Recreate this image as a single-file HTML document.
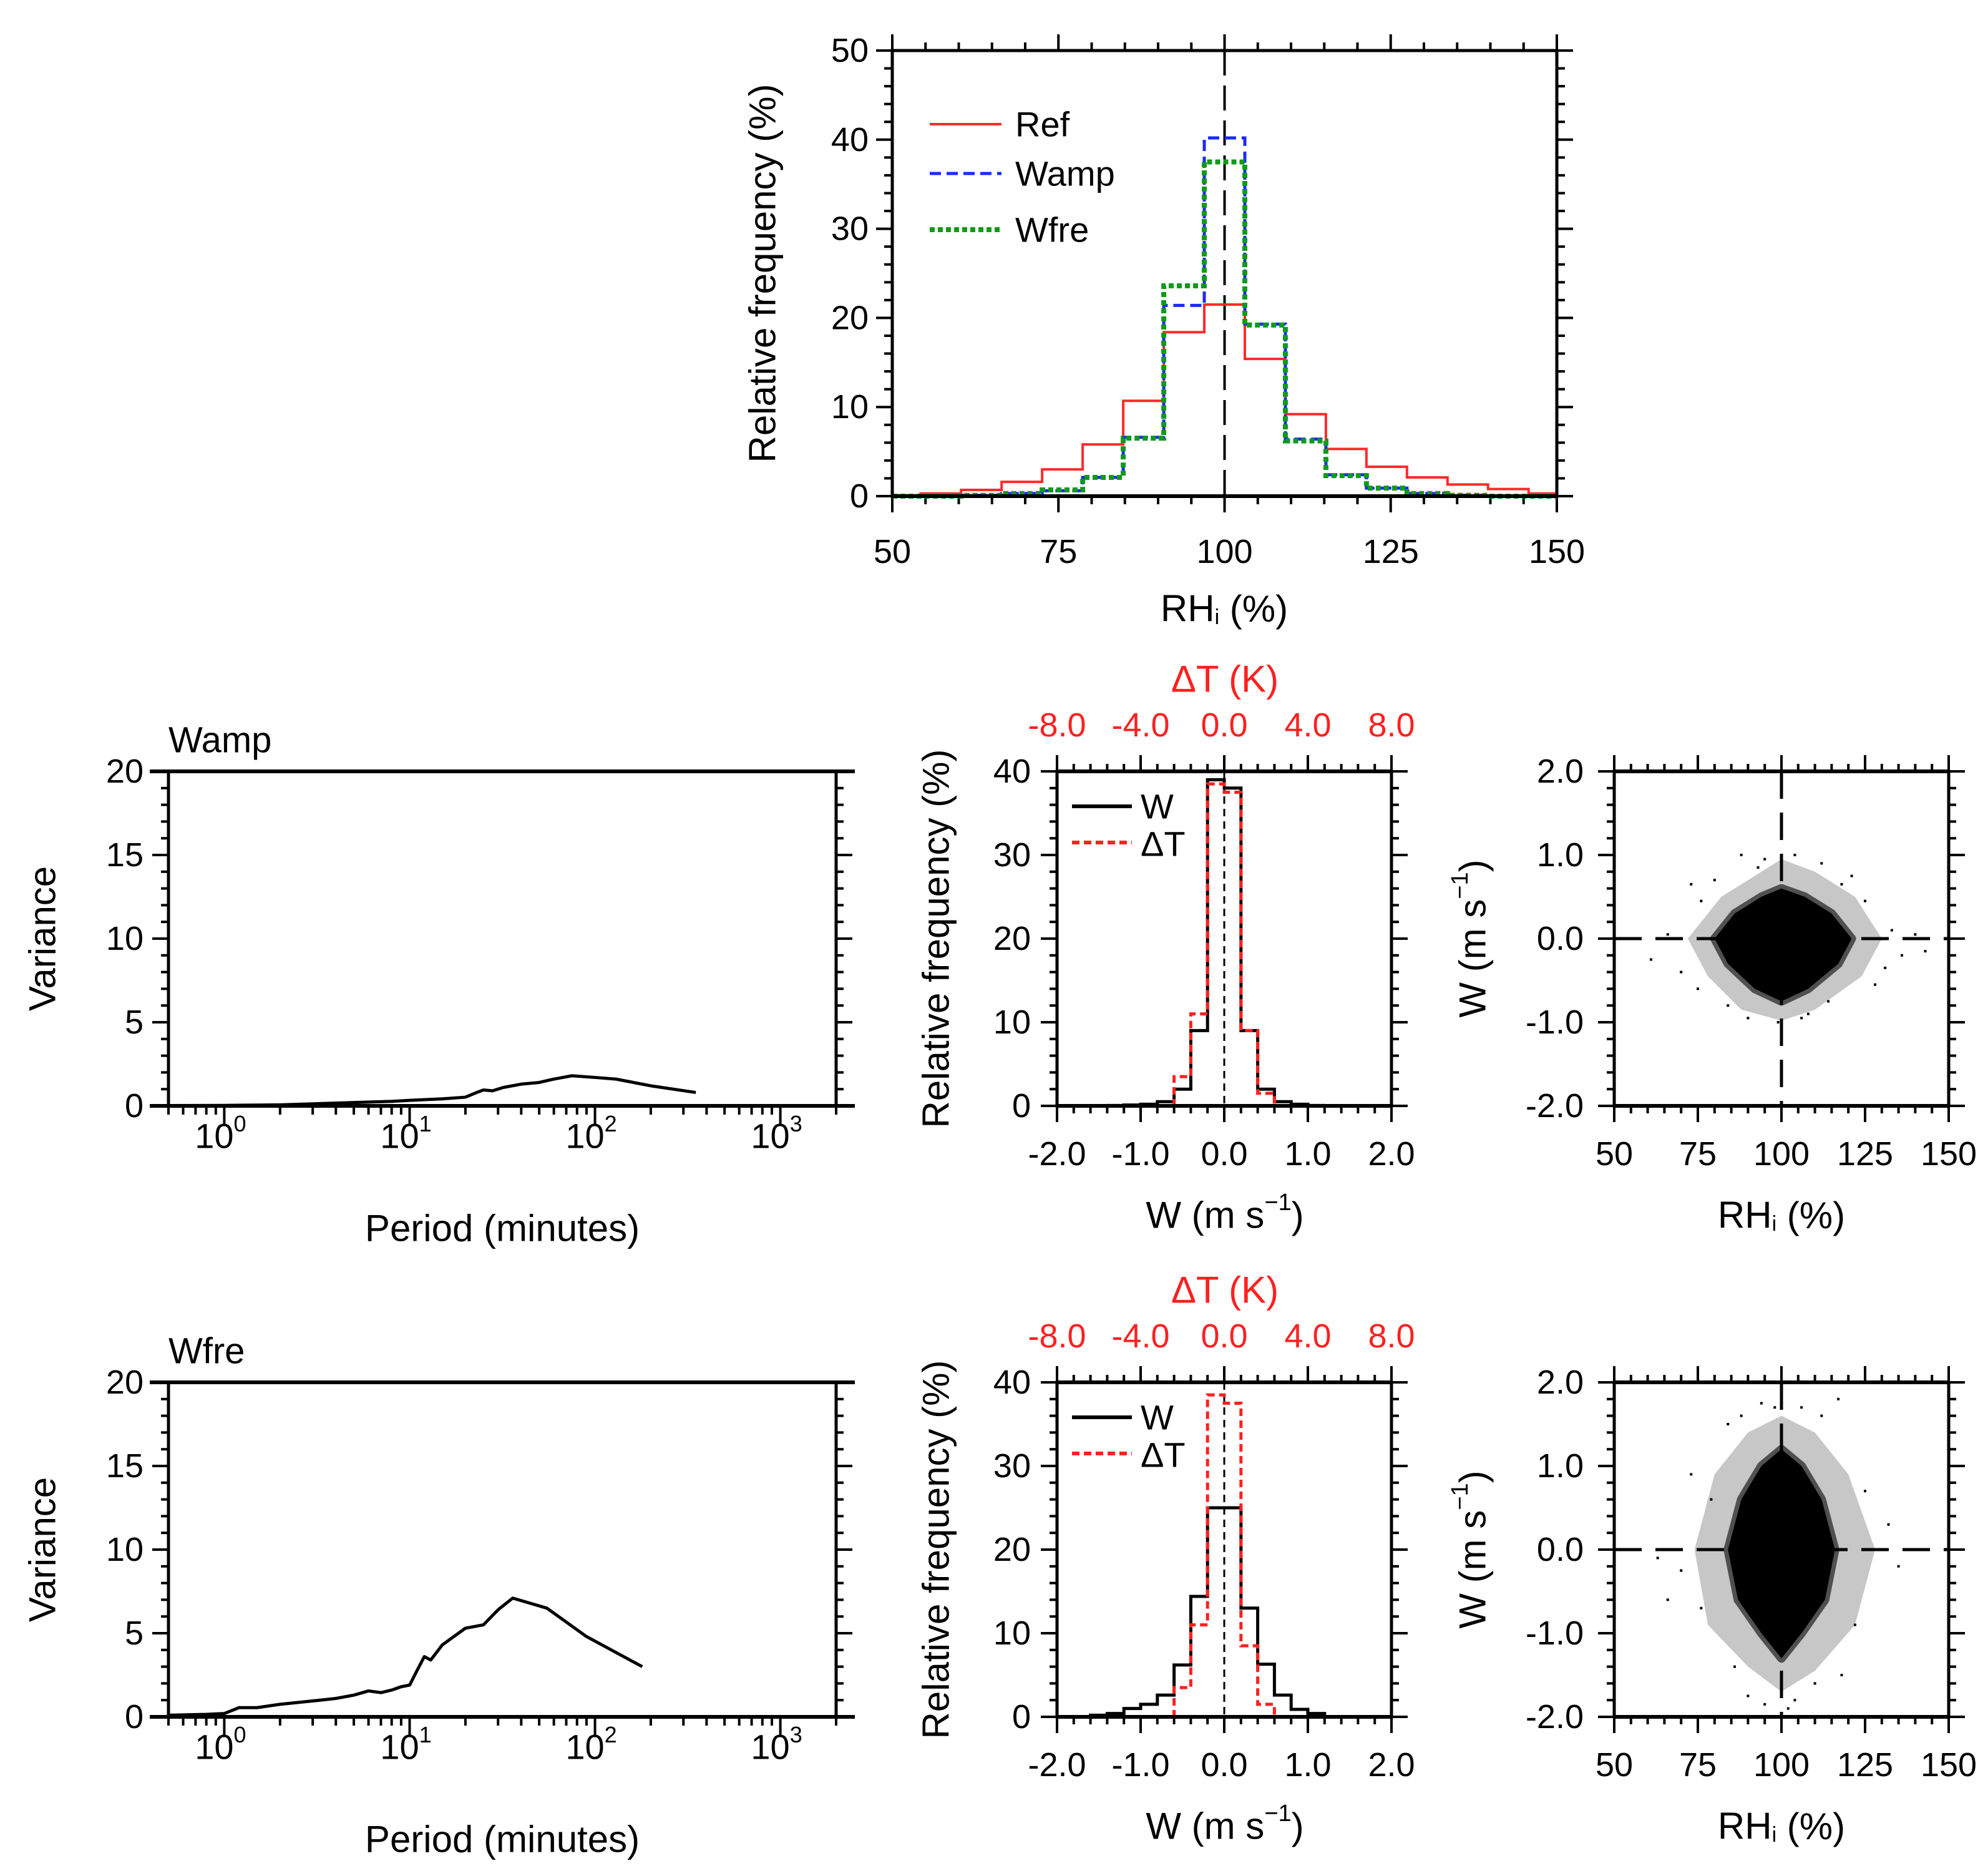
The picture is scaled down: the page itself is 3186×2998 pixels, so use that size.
<!DOCTYPE html>
<html><head><meta charset="utf-8">
<style>
html,body{margin:0;padding:0;background:#fff;}
svg{display:block;font-family:"Liberation Sans",Arial,sans-serif;}
</style></head>
<body>
<svg id="fig" xmlns="http://www.w3.org/2000/svg" width="3186" height="2998" viewBox="0 0 3186 2998">
<rect x="0" y="0" width="3186" height="2998" fill="#fff"/>
</svg>
<script>
// ---------- DATA ----------
const rhBinK = [-8,-7,-6,-5,-4,-3,-2,-1,0,1,2,3,4,5,6,7,8];
const refVals  = [0.1,0.3,0.7,1.6,3.0,5.8,10.7,18.4,21.5,15.4,9.2,5.3,3.3,2.1,1.3,0.8,0.3];
const wampVals = [0,0,0.1,0.3,0.6,2.1,6.6,21.4,40.2,19.3,6.4,2.4,0.9,0.3,0.1,0,0];
const wfreVals = [0,0,0.1,0.3,0.7,2.1,6.5,23.6,37.5,19.2,6.2,2.3,0.9,0.3,0.1,0,0];
const rhTicks = [50,75,100,125,150];
const freqTicks50 = [0,10,20,30,40,50];
const wampPeriod = [0.5,1,2,3,5,8,10,15,20,23,25,28,32,40,50,60,75,100,130,200,350];
const wampVar    = [0.02,0.03,0.06,0.12,0.2,0.27,0.33,0.42,0.52,0.8,0.95,0.9,1.1,1.3,1.4,1.6,1.8,1.7,1.6,1.2,0.8];
const wfrePeriod = [0.5,0.8,1,1.2,1.5,2,3,4,5,6,7,8,9,10,11,12,13,15,20,25,30,36,55,90,180];
const wfreVar    = [0.1,0.15,0.2,0.55,0.55,0.75,0.95,1.1,1.3,1.55,1.45,1.6,1.8,1.9,2.8,3.6,3.4,4.3,5.3,5.5,6.4,7.1,6.5,4.8,3.0];
const decades = [0,1,2,3];
const varTicks = [0,5,10,15,20];
const wEdges = [-1.6,-1.4,-1.2,-1.0,-0.8,-0.6,-0.4,-0.2,0,0.2,0.4,0.6,0.8,1.0];
const wAmpW  = [0,0.05,0.1,0.2,0.5,2.0,9.0,39.0,38.0,9.0,2.0,0.5,0.2,0.05];
const wAmpT  = [0,0,0,0,0,3.5,11.0,38.5,37.5,9.0,1.5,0,0,0];
const wFreW  = [0.2,0.4,1.0,1.5,2.6,6.2,14.4,25.0,25.0,13.0,6.3,2.6,0.9,0.4];
const wFreT  = [0,0,0,0,0,3.5,11.0,38.5,37.5,8.5,1.5,0,0,0];
const wTicks = [-2,-1,0,1,2];
const wTickLabels = ["-2.0","-1.0","0.0","1.0","2.0"];
const dTLabels = ["-8.0","-4.0","0.0","4.0","8.0"];
const freqTicks40 = [0,10,20,30,40];
const ampCoreRH = [80,86,94,100,107,115,121,117,108,100,92,84];
const ampCoreW  = [0.0,0.3,0.5,0.6,0.5,0.3,0.0,-0.3,-0.6,-0.75,-0.6,-0.3];
const ampHaloRH = [72,82,92,100,110,122,130,124,110,100,88,78];
const ampHaloW  = [0.0,0.5,0.75,0.95,0.8,0.5,0.0,-0.45,-0.85,-0.98,-0.85,-0.45];
const ampPtsRH = [61,66,70,73,75,128,133,136,140,143,88,95,104,112,118,84,90,108,114,99,76,125,131,80,121,93,106];
const ampPtsW  = [-0.25,0.05,-0.4,0.65,-0.6,-0.55,0.1,-0.2,0.05,-0.15,1.0,0.95,1.0,0.9,0.65,-0.8,-0.95,-0.9,-0.75,-1.0,0.45,0.45,-0.35,0.7,0.75,0.85,-0.95];
const freCoreRH = [84,88,94,100,106,112,116,113,106,100,94,87];
const freCoreW  = [0.0,0.6,1.0,1.2,1.0,0.6,0.0,-0.6,-1.0,-1.3,-1.0,-0.6];
const freHaloRH = [74,80,90,100,110,120,128,122,110,100,90,78];
const freHaloW  = [0.0,0.9,1.4,1.6,1.4,0.9,0.0,-0.9,-1.45,-1.7,-1.4,-0.9];
const frePtsRH = [63,66,70,73,128,132,135,84,88,94,106,112,117,90,95,104,110,86,118,79,125,76,122,98,102];
const frePtsW  = [-0.1,-0.6,-0.25,0.9,0.0,0.3,-0.2,1.5,1.6,1.75,1.7,1.6,1.8,-1.75,-1.85,-1.8,-1.6,-1.4,-1.5,0.6,0.7,-0.7,-0.9,1.7,-1.9];

// ---------- helpers ----------
const NS="http://www.w3.org/2000/svg";
const svg=document.getElementById('fig');
function mk(tag,attrs,parent){const e=document.createElementNS(NS,tag);for(const k in attrs)e.setAttribute(k,attrs[k]);(parent||svg).appendChild(e);return e;}
function txt(s,x,y,size,anchor,fill,parent){const t=mk('text',{x:x,y:y,'font-size':size,'text-anchor':anchor||'middle','dominant-baseline':'central',fill:fill||'#000'},parent);t.textContent=s;return t;}
function makeAxes(c){
  c.sx = c.log ? (v=>c.x0+(Math.log10(v)-Math.log10(c.xmin))/(Math.log10(c.xmax)-Math.log10(c.xmin))*(c.x1-c.x0))
               : (v=>c.x0+(v-c.xmin)/(c.xmax-c.xmin)*(c.x1-c.x0));
  c.sy = v=>c.y1-(v-c.ymin)/(c.ymax-c.ymin)*(c.y1-c.y0);
  return c;
}
function frame(c,g){
  mk('rect',{x:c.x0,y:c.y0,width:c.x1-c.x0,height:c.y1-c.y0,fill:'none',stroke:'#000','stroke-width':5},g);
}
function tick(g,x1,y1,x2,y2,w){mk('line',{x1:x1,y1:y1,x2:x2,y2:y2,stroke:'#000','stroke-width':w||4},g);}
function stepPath(edges,vals,sx,sy,width){
  let d='';
  for(let i=0;i<vals.length;i++){
    const a=sx(edges[i]),b=sx(edges[i]+width),y=sy(vals[i]);
    d+=(i===0?'M'+a+','+sy(0)+' L'+a+','+y:' L'+a+','+y)+' L'+b+','+y;
  }
  d+=' L'+sx(edges[vals.length-1]+width)+','+sy(0);
  return d;
}

// ---------- TOP HISTOGRAM ----------
(function(){
  const g=mk('g',{});
  
  
  const c=makeAxes({x0:1430,x1:2495,y0:81,y1:795,xmin:50,xmax:150,ymin:0,ymax:50});
  for(let v=50;v<=150;v+=5){const big=v%25===0;const L=big?26:13;
    tick(g,c.sx(v),c.y1,c.sx(v),c.y1+L);tick(g,c.sx(v),c.y0,c.sx(v),c.y0-L);}
  for(let v=0;v<=50;v+=2){const big=v%10===0;const L=big?26:13;
    tick(g,c.x0,c.sy(v),c.x0-L,c.sy(v));tick(g,c.x1,c.sy(v),c.x1+L,c.sy(v));}
  rhTicks.forEach(v=>{const t=txt(String(v),c.sx(v),884,54,'middle','#000',g);});
  freqTicks50.forEach(v=>{const t=txt(String(v),1392,c.sy(v),54,'end','#000',g);});
  const xt=mk('text',{x:1962,y:975,'font-size':60,'text-anchor':'middle','dominant-baseline':'central'},g);
  xt.innerHTML='RH<tspan font-size="34" dy="14">i</tspan><tspan dy="-14"> (%)</tspan>';
  
  const yt=txt('Relative frequency (%)',0,0,60,'middle','#000',g);yt.setAttribute('transform','translate(1222,438) rotate(-90)');
  
  const vl=mk('line',{x1:c.sx(100),y1:c.y0,x2:c.sx(100),y2:c.y1,stroke:'#000','stroke-width':4,'stroke-dasharray':'40,16'},g);
  
  const w=6.1;const edges=rhBinK.map(k=>100+k*w-w/2);
  const sxc=v=>c.sx(Math.max(50,Math.min(150,v)));
  const pRef=mk('path',{d:stepPath(edges,refVals,sxc,c.sy,w),fill:'none',stroke:'#ff2a2a','stroke-width':4},g);
  
  const pWa=mk('path',{d:stepPath(edges,wampVals,sxc,c.sy,w),fill:'none',stroke:'#1a2bff','stroke-width':5,'stroke-dasharray':'18,9'},g);
  
  const pWf=mk('path',{d:stepPath(edges,wfreVals,sxc,c.sy,w),fill:'none',stroke:'#109a1a','stroke-width':8,'stroke-dasharray':'8,5'},g);
  
  frame(c,g);
  tick(g,c.x0,c.y1,c.x1,c.y1,6);
  const leg=mk('g',{},g);
  const items=[['Ref','#ff2a2a',4,'none',199],['Wamp','#1a2bff',5,'18,9',278],['Wfre','#109a1a',8,'8,5',368]];
  items.forEach(it=>{const e=mk('g',{},leg);
    mk('line',{x1:1490,y1:it[4],x2:1605,y2:it[4],stroke:it[1],'stroke-width':it[2],'stroke-dasharray':it[3]},e);
    txt(it[0],1627,it[4],56,'start','#000',e);});
})();

// ---------- VARIANCE PANELS ----------
function variancePanel(dy,title,per,vals,name){
  const g=mk('g',{});
  
  
  const c=makeAxes({x0:270,x1:1340,y0:1236+dy,y1:1772+dy,xmin:0.5,xmax:2000,ymin:0,ymax:20,log:true});
  for(let v=0;v<=20;v+=1){const big=v%5===0;const L=big?26:12;
    tick(g,c.x0,c.sy(v),c.x0-L,c.sy(v));tick(g,c.x1,c.sy(v),c.x1+L,c.sy(v));}
  for(let d=-1;d<=3;d++){for(let m=1;m<=9;m++){const v=m*Math.pow(10,d);if(v<0.5||v>2000)continue;
    const L=m===1?30:14;tick(g,c.sx(v),c.y1,c.sx(v),c.y1+L);}}
  decades.forEach(d=>{const t=mk('text',{x:c.sx(Math.pow(10,d))-6,y:1820+dy,'font-size':56,'text-anchor':'middle','dominant-baseline':'central'},g);
    t.innerHTML='10<tspan font-size="36" dy="-20">'+d+'</tspan>';
    });
  varTicks.forEach(v=>{const t=txt(String(v),230,c.sy(v),54,'end','#000',g);});
  const tt=txt(title,270,1186+dy,58,'start','#000',g);
  const xt=txt('Period (minutes)',805,1968+dy,60,'middle','#000',g);
  const yt=txt('Variance',0,0,60,'middle','#000',g);yt.setAttribute('transform','translate(68,'+(1504+dy)+') rotate(-90)');
  
  const pts=per.map((p,i)=>c.sx(p)+','+c.sy(vals[i])).join(' ');
  const pl=mk('polyline',{points:pts,fill:'none',stroke:'#000','stroke-width':5,'stroke-linejoin':'round'},g);
  
  frame(c,g);
  tick(g,c.x0-30,c.y1,c.x1+30,c.y1,6);tick(g,c.x0-30,c.y0,c.x1+30,c.y0,6);
}
variancePanel(0,'Wamp',wampPeriod,wampVar,'wamp-variance-panel');
variancePanel(979,'Wfre',wfrePeriod,wfreVar,'wfre-variance-panel');

// ---------- W / dT HISTOGRAMS ----------
function wHist(dy,wv,tv,name){
  const g=mk('g',{});
  
  
  const c=makeAxes({x0:1694,x1:2230,y0:1236+dy,y1:1772+dy,xmin:-2,xmax:2,ymin:0,ymax:40});
  for(let i=0;i<=20;i++){const v=-2+i*0.2;const big=i%5===0;const L=big?26:12;
    tick(g,c.sx(v),c.y1,c.sx(v),c.y1+L);tick(g,c.sx(v),c.y0,c.sx(v),c.y0-L);}
  for(let v=0;v<=40;v+=2){const big=v%10===0;const L=big?26:12;
    tick(g,c.x0,c.sy(v),c.x0-L,c.sy(v));tick(g,c.x1,c.sy(v),c.x1+L,c.sy(v));}
  wTicks.forEach((v,i)=>{const t=txt(wTickLabels[i],c.sx(v),1849+dy,54,'middle','#000',g);
    const r=txt(dTLabels[i],c.sx(v),1162+dy,54,'middle','#ff2020',g);});
  freqTicks40.forEach(v=>{const t=txt(String(v),1652,c.sy(v),54,'end','#000',g);});
  const tt=txt('ΔT (K)',1963,1088+dy,60,'middle','#ff2020',g);
  const xt=mk('text',{x:1963,y:1947+dy,'font-size':60,'text-anchor':'middle','dominant-baseline':'central'},g);
  xt.innerHTML='W (m s<tspan font-size="38" dy="-20">−1</tspan><tspan dy="20">)</tspan>';
  
  const yt=txt('Relative frequency (%)',0,0,60,'middle','#000',g);yt.setAttribute('transform','translate(1500,'+(1504+dy)+') rotate(-90)');
  
  const zl=mk('line',{x1:c.sx(0),y1:c.y0,x2:c.sx(0),y2:c.y1,stroke:'#000','stroke-width':3,'stroke-dasharray':'12,8'},g);
  
  const pw=mk('path',{d:stepPath(wEdges,wv,c.sx,c.sy,0.2),fill:'none',stroke:'#000','stroke-width':5},g);
  
  const pt=mk('path',{d:stepPath(wEdges,tv,c.sx,c.sy,0.2),fill:'none',stroke:'#ff2020','stroke-width':5,'stroke-dasharray':'12,7'},g);
  
  frame(c,g);
  tick(g,c.x0,c.y1,c.x1,c.y1,6);tick(g,c.x0,c.y0,c.x1,c.y0,6);
  const leg=mk('g',{},g);
  const e1=mk('g',{},leg);
  mk('line',{x1:1718,y1:1292+dy,x2:1814,y2:1292+dy,stroke:'#000','stroke-width':6},e1);txt('W',1828,1292+dy,56,'start','#000',e1);
  const e2=mk('g',{},leg);
  mk('line',{x1:1718,y1:1350+dy,x2:1814,y2:1350+dy,stroke:'#ff2020','stroke-width':6,'stroke-dasharray':'12,7'},e2);txt('ΔT',1828,1352+dy,56,'start','#000',e2);
}
wHist(0,wAmpW,wAmpT,'wamp-w-histogram');
wHist(979,wFreW,wFreT,'wfre-w-histogram');

// ---------- SCATTER ----------
function scatter(dy,coreRH,coreW,haloRH,haloW,ptRH,ptW,name){
  const g=mk('g',{});
  
  
  const c=makeAxes({x0:2587,x1:3123,y0:1236+dy,y1:1772+dy,xmin:50,xmax:150,ymin:-2,ymax:2});
  for(let v=50;v<=150;v+=5){const big=v%25===0;const L=big?26:12;
    tick(g,c.sx(v),c.y1,c.sx(v),c.y1+L);tick(g,c.sx(v),c.y0,c.sx(v),c.y0-L);}
  for(let i=0;i<=20;i++){const v=-2+i*0.2;const big=i%5===0;const L=big?26:12;
    tick(g,c.x0,c.sy(v),c.x0-L,c.sy(v));tick(g,c.x1,c.sy(v),c.x1+L,c.sy(v));}
  rhTicks.forEach(v=>{const t=txt(String(v),c.sx(v),1849+dy,54,'middle','#000',g);});
  wTicks.forEach((v,i)=>{const t=txt(wTickLabels[i],2538,c.sy(v),54,'end','#000',g);});
  const xt=mk('text',{x:2855,y:1947+dy,'font-size':60,'text-anchor':'middle','dominant-baseline':'central'},g);
  xt.innerHTML='RH<tspan font-size="34" dy="14">i</tspan><tspan dy="-14"> (%)</tspan>';
  
  const yt=mk('text',{'font-size':60,'text-anchor':'middle','dominant-baseline':'central',transform:'translate(2360,'+(1504+dy)+') rotate(-90)'},g);
  yt.innerHTML='W (m s<tspan font-size="38" dy="-20">−1</tspan><tspan dy="20">)</tspan>';
  
  const halo=mk('polygon',{points:haloRH.map((r,i)=>c.sx(r)+','+c.sy(haloW[i])).join(' '),fill:'#000','fill-opacity':0.22,stroke:'none'},g);
  
  const core=mk('polygon',{points:coreRH.map((r,i)=>c.sx(r)+','+c.sy(coreW[i])).join(' '),fill:'#000',stroke:'#000','stroke-width':14,'stroke-linejoin':'round','stroke-opacity':0.6},g);
  
  ptRH.forEach((r,i)=>{const p=mk('rect',{x:c.sx(r)-2,y:c.sy(ptW[i])-2,width:4,height:4,fill:'#000'},g);
    });
  const h=mk('line',{x1:c.x0,y1:c.sy(0),x2:c.x1,y2:c.sy(0),stroke:'#000','stroke-width':5,'stroke-dasharray':'44,22'},g);
  
  const v=mk('line',{x1:c.sx(100),y1:c.y0,x2:c.sx(100),y2:c.y1,stroke:'#000','stroke-width':5,'stroke-dasharray':'44,22'},g);
  
  frame(c,g);
  tick(g,c.x0,c.y1,c.x1,c.y1,6);tick(g,c.x0,c.y0,c.x1,c.y0,6);
}
scatter(0,ampCoreRH,ampCoreW,ampHaloRH,ampHaloW,ampPtsRH,ampPtsW,'wamp-scatter');
scatter(979,freCoreRH,freCoreW,freHaloRH,freHaloW,frePtsRH,frePtsW,'wfre-scatter');
</script>
</body></html>
